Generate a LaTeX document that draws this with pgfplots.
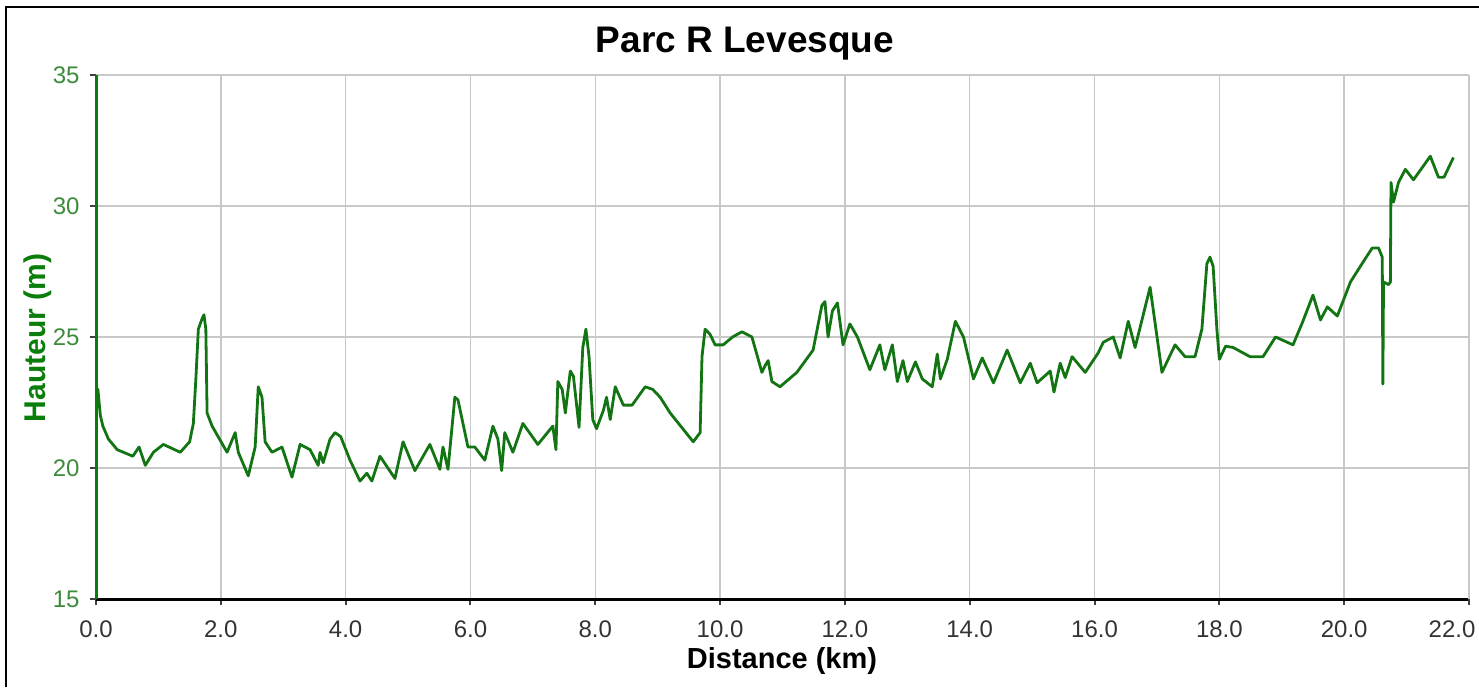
\documentclass[border=0pt]{standalone}
\usepackage{fontspec}
\setmainfont{Liberation Sans}
\usepackage{pgfplots}
\pgfplotsset{compat=1.18}
\definecolor{lg}{RGB}{18,116,18}
\definecolor{axg}{RGB}{10,125,10}
\definecolor{tg}{RGB}{60,140,60}
\definecolor{gridc}{RGB}{200,200,200}
\begin{document}
\begin{tikzpicture}
\path[use as bounding box] (-48pt,-44pt) rectangle (691.5pt,299.5pt);
\begin{axis}[
  at={(0,0)}, anchor=south west,
  scale only axis, width=686.5pt, height=262pt,
  xmin=0, xmax=22, ymin=15, ymax=35,
  xtick={0,2,...,20}, ytick={15,20,...,35},
  extra x ticks={22},
  extra x tick style={grid=major, xticklabel style={xshift=-8.5pt}},
  axis x line=bottom, axis y line=left,
  axis line style={-},
  x axis line style={black, line width=1.5pt},
  y axis line style={axg, line width=1.5pt},
  grid=major, grid style={gridc, line width=0.75pt},
  tick align=outside, major tick length=3pt,
  tick style={black!75, line width=1pt},
  /pgf/number format/assume math mode=true,
  xticklabel style={/pgf/number format/.cd, fixed, fixed zerofill, precision=1, /tikz/.cd,
     font=\fontsize{12}{14}\selectfont, text=black!80, anchor=north, inner sep=0pt, yshift=-7.5pt},
  yticklabel style={font=\fontsize{12}{14}\selectfont, text=tg, anchor=east, inner sep=0pt, xshift=-5pt},
]
\addplot[lg, line width=1.4pt, line join=round] coordinates {
(0.00,22.9) (0.03,23.0) (0.07,22.0) (0.11,21.6) (0.20,21.1) (0.34,20.7) (0.59,20.45) (0.69,20.8) (0.79,20.1)
(0.92,20.6) (1.08,20.9) (1.35,20.6) (1.50,21.0) (1.56,21.7) (1.60,23.4) (1.64,25.3) (1.70,25.7)
(1.73,25.85) (1.76,25.3) (1.78,22.1) (1.86,21.6) (2.10,20.6) (2.23,21.35) (2.28,20.6)
(2.44,19.7) (2.55,20.8) (2.60,23.1) (2.66,22.7) (2.71,21.0) (2.82,20.6) (2.98,20.8)
(3.14,19.65) (3.27,20.9) (3.43,20.7) (3.56,20.1) (3.59,20.6) (3.64,20.2) (3.75,21.1) (3.83,21.35) (3.92,21.2)
(4.07,20.3) (4.23,19.5) (4.34,19.8) (4.42,19.5) (4.55,20.45) (4.79,19.6) (4.92,21.0)
(5.11,19.9) (5.35,20.9) (5.51,19.95) (5.56,20.8) (5.64,19.95) (5.75,22.7) (5.80,22.6)
(5.96,20.8) (6.07,20.8) (6.23,20.3) (6.36,21.6) (6.44,21.1) (6.50,19.9) (6.55,21.35)
(6.68,20.6) (6.84,21.7) (7.08,20.9) (7.32,21.6) (7.37,20.7) (7.40,23.3) (7.47,23.0)
(7.52,22.1) (7.60,23.7) (7.65,23.5) (7.74,21.55) (7.80,24.6) (7.85,25.3) (7.90,24.25)
(7.96,21.85) (8.02,21.5) (8.13,22.2) (8.18,22.7) (8.24,21.85) (8.32,23.1) (8.45,22.4)
(8.59,22.4) (8.80,23.1) (8.92,23.0) (9.04,22.7) (9.20,22.1) (9.57,21.0) (9.68,21.35) (9.71,24.25)
(9.76,25.3) (9.84,25.1) (9.92,24.7) (10.05,24.7) (10.20,25.0) (10.35,25.2) (10.51,25.0) (10.67,23.65)
(10.72,23.9) (10.77,24.1) (10.83,23.3) (10.96,23.1) (11.23,23.65) (11.49,24.5) (11.63,26.2)
(11.68,26.35) (11.73,25.0) (11.80,26.0) (11.88,26.3) (11.97,24.7) (12.08,25.5) (12.20,25.0)
(12.40,23.75) (12.56,24.7) (12.64,23.75) (12.76,24.7) (12.84,23.3) (12.93,24.1) (13.00,23.3)
(13.13,24.05) (13.24,23.4) (13.40,23.1) (13.48,24.35) (13.53,23.4) (13.64,24.15) (13.77,25.6)
(13.90,25.0) (14.06,23.4) (14.20,24.2) (14.38,23.25) (14.60,24.5) (14.81,23.25) (14.97,24.0)
(15.08,23.25) (15.29,23.7) (15.35,22.9) (15.45,24.0) (15.53,23.45) (15.64,24.25) (15.85,23.65)
(16.06,24.4) (16.14,24.8) (16.30,25.0) (16.41,24.2) (16.54,25.6) (16.65,24.6) (16.89,26.9)
(17.08,23.65) (17.29,24.7) (17.45,24.25) (17.61,24.25) (17.72,25.3) (17.80,27.8) (17.85,28.05)
(17.90,27.7) (17.96,25.3) (18.00,24.15) (18.10,24.65) (18.22,24.6) (18.49,24.25) (18.70,24.25)
(18.90,25.0) (19.18,24.7) (19.33,25.55) (19.50,26.6) (19.62,25.65) (19.73,26.15) (19.89,25.8)
(20.10,27.1) (20.30,27.85) (20.45,28.4) (20.55,28.4) (20.61,28.05) (20.62,23.2) (20.63,27.1)
(20.71,27.0) (20.74,27.1) (20.75,30.9) (20.79,30.15) (20.87,30.9) (20.98,31.4) (21.11,31.0)
(21.38,31.9) (21.51,31.1) (21.60,31.1) (21.75,31.85)
};
\end{axis}
\draw[black, line width=1pt] (-45pt,-44pt) -- (-45pt,296pt) -- (691.5pt,296pt);
\node[anchor=base, font=\bfseries\fontsize{18.5}{20}\selectfont] at (324.5pt,273pt) {Parc R Levesque};
\node[anchor=base, font=\bfseries\fontsize{14.5}{16}\selectfont] at (343pt,-34.5pt) {Distance (km)};
\node[rotate=90, anchor=center, text=axg, font=\bfseries\fontsize{15}{16}\selectfont] at (-29pt,130.5pt) {Hauteur (m)};
\end{tikzpicture}
\end{document}
